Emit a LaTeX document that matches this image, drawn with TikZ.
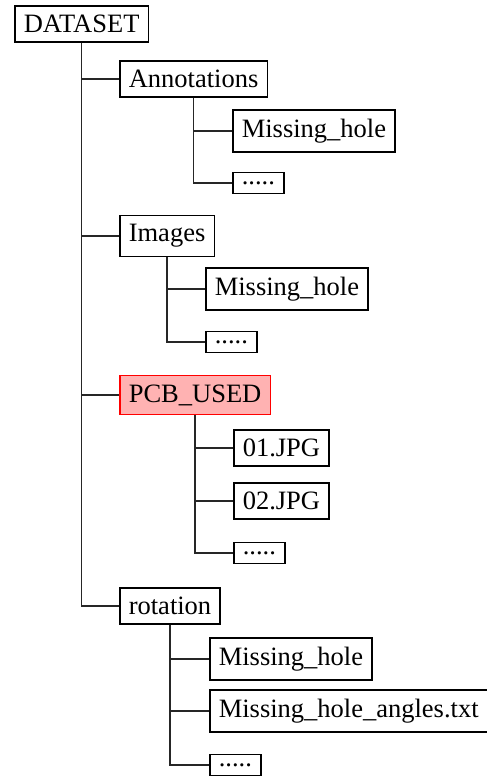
\documentclass[tikz,border=0pt]{standalone}
\usepackage{fontspec}
\setmainfont{Liberation Serif}
\begin{document}
\begin{tikzpicture}[x=1pt,y=-1pt,
  box/.style={draw=black, line width=1.6pt, inner xsep=9pt, inner ysep=9pt,
    anchor=west, font=\fontsize{26.5}{30}\selectfont},
  hot/.style={box, draw=red, fill=red!30},
  link/.style={draw=black!85, line width=1.2pt}]
\useasboundingbox (0,0) rectangle (487,777);

% top level
\node[box] (root) at (14,24) {DATASET};
\node[box] (ann) at (119,79) {Annotations};
\node[box] (img) at (119,236) {Images};
\node[hot] (pcb) at (119,395) {PCB\_USED};
\node[box] (rot) at (119,606) {rotation};

% Annotations
\node[box] (annA) at (232,131) {Missing\_hole};
\node[box] (annB) at (232,183) {.....};
% Images
\node[box] (imgA) at (205,289) {Missing\_hole};
\node[box] (imgB) at (205,342) {.....};
% PCB_USED
\node[box] (pcbA) at (233,448) {01.JPG};
\node[box] (pcbB) at (233,501) {02.JPG};
\node[box] (pcbC) at (233,553) {.....};
% rotation
\node[box] (rotA) at (209,659) {Missing\_hole};
\node[box] (rotB) at (209,711) {Missing\_hole\_angles.txt};
\node[box] (rotC) at (209,765) {.....};

% tree connectors
\foreach \c in {ann,img,pcb,rot} \draw[link] (root.south) |- (\c.west);
\foreach \c in {annA,annB} \draw[link] (ann.south) |- (\c.west);
\foreach \c in {imgA,imgB} \draw[link] (img.south) |- (\c.west);
\foreach \c in {pcbA,pcbB,pcbC} \draw[link] (pcb.south) |- (\c.west);
\foreach \c in {rotA,rotB,rotC} \draw[link] (rot.south) |- (\c.west);
\end{tikzpicture}
\end{document}
